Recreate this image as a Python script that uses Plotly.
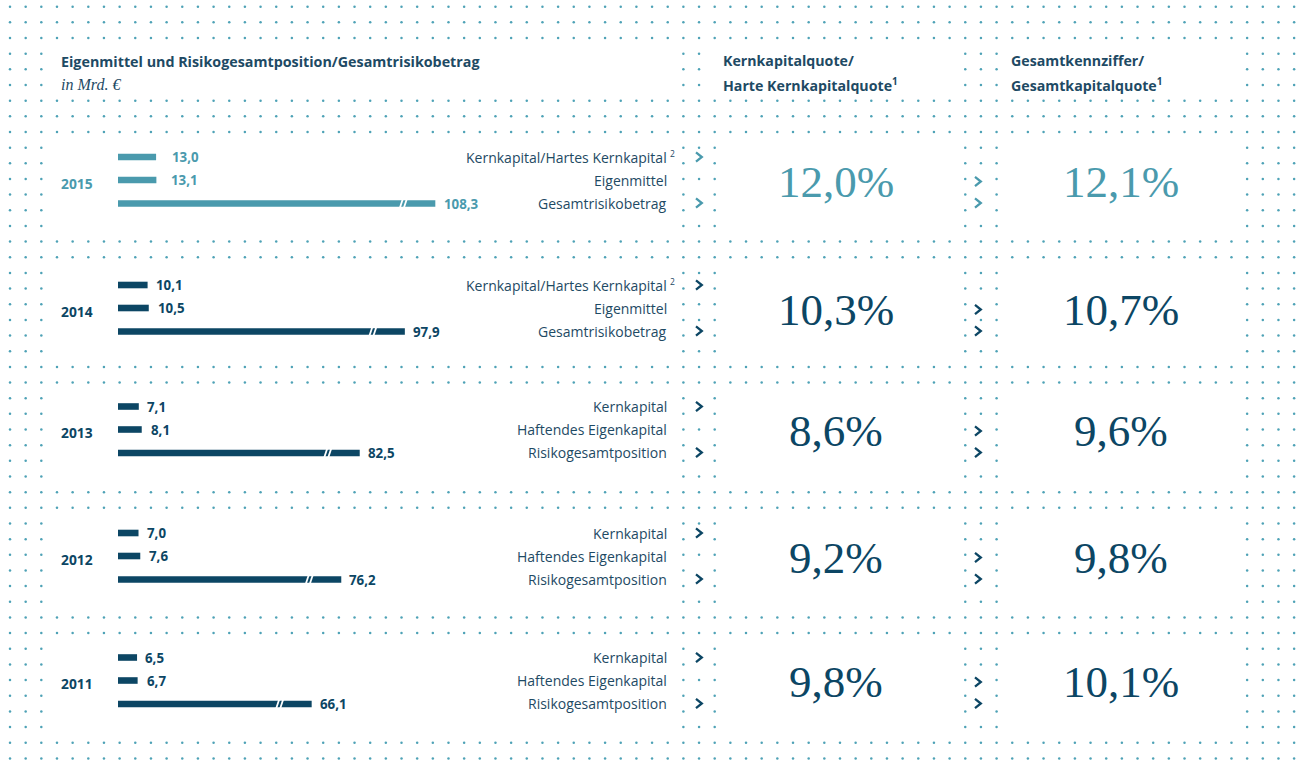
import plotly.graph_objects as go

# ---------------- data ----------------
years = ["2015", "2014", "2013", "2012", "2011"]
kernkapital = [13.0, 10.1, 7.1, 7.0, 6.5]
eigenmittel = [13.1, 10.5, 8.1, 7.6, 6.7]
risiko = [108.3, 97.9, 82.5, 76.2, 66.1]
kernkapitalquote = [12.0, 10.3, 8.6, 9.2, 9.8]
gesamtkennziffer = [12.1, 10.7, 9.6, 9.8, 10.1]
label_top = ["Kernkapital/Hartes Kernkapital", "Kernkapital/Hartes Kernkapital",
             "Kernkapital", "Kernkapital", "Kernkapital"]
label_mid = ["Eigenmittel", "Eigenmittel", "Haftendes Eigenkapital",
             "Haftendes Eigenkapital", "Haftendes Eigenkapital"]
label_bot = ["Gesamtrisikobetrag", "Gesamtrisikobetrag", "Risikogesamtposition",
             "Risikogesamtposition", "Risikogesamtposition"]
label_top_note = ["2", "2", "", "", ""]

title = "Eigenmittel und Risikogesamtposition/Gesamtrisikobetrag"
subtitle = "in Mrd. €"
head2 = ["Kernkapitalquote/", "Harte Kernkapitalquote", "1"]
head3 = ["Gesamtkennziffer/", "Gesamtkapitalquote", "1"]

# ---------------- style / layout ----------------
W, H = 1296, 773
TEAL = "#4a9aad"
NAVY = "#0c4664"
TEXT = "#1e4a64"
DOT = "#4ea2b6"
row_colors = [TEAL, NAVY, NAVY, NAVY, NAVY]
row_center = [180, 308, 429.5, 556, 680.5]
GAP = 23
SANS = "Open Sans"
SERIF = "Liberation Serif"
PX_PER_UNIT = 2.93
BAR_X0 = 118
BAR_RANGE = 140


def de(v):
    return f"{v:.1f}".replace(".", ",")


fig = go.Figure()

# ---------------- dotted background ----------------
SP = 15.66
header_rows = {3, 4, 5}
data_rows = set()
for k in range(5):
    data_rows |= set(range(9 + 8 * k, 15 + 8 * k))
blank_header = set(range(3, 43)) | set(range(45, 61)) | set(range(64, 79))
blank_data = set(range(3, 43)) | set(range(46, 61)) | set(range(64, 79))

arrows = []  # (x, y, color)
for k in range(5):
    c = row_center[k]
    arrows.append((699, c - GAP, row_colors[k]))
    arrows.append((699, c + GAP, row_colors[k]))
    arrows.append((978, c + 1.5, row_colors[k]))
    arrows.append((978, c + GAP, row_colors[k]))

dx, dy = [], []
for j in range(49):
    for i in range(83):
        if j in header_rows and i in blank_header:
            continue
        if j in data_rows and i in blank_data:
            continue
        x = 10 + SP * i
        y = 6.7 + SP * j
        if any(abs(x - ax) < 5 and abs(y - ay) < 9 for ax, ay, _ in arrows):
            continue
        dx.append(x)
        dy.append(y)

fig.add_trace(go.Scatter(x=dx, y=dy, mode="markers", xaxis="x", yaxis="y",
                         marker=dict(size=2.5, color=DOT), hoverinfo="skip",
                         showlegend=False))

# ---------------- bars ----------------
for k in range(5):
    c = row_center[k]
    ys = [c - GAP, c, c + GAP + 0.5]
    vals = [kernkapital[k], eigenmittel[k], risiko[k]]
    fig.add_trace(go.Bar(x=vals, y=ys, orientation="h", width=6.6,
                         marker=dict(color=row_colors[k], line=dict(width=0)),
                         xaxis="x2", yaxis="y", showlegend=False,
                         hoverinfo="skip"))

shapes = []
annotations = []

# break marks on the long bars
for k in range(5):
    c = row_center[k] + GAP + 0.5
    for off in (-34, -30):
        shapes.append(dict(type="line", xref="x2", yref="y",
                           xsizemode="pixel", ysizemode="pixel",
                           xanchor=risiko[k], yanchor=c,
                           x0=off - 2, x1=off + 2, y0=-6, y1=6,
                           line=dict(color="white", width=1.8)))

# value labels
for k in range(5):
    c = row_center[k]
    ys = [c - GAP, c, c + GAP + 0.5]
    vals = [kernkapital[k], eigenmittel[k], risiko[k]]
    pads = [14, 13, 7] if k == 0 else [6, 7, 6]
    for v, y, p in zip(vals, ys, pads):
        annotations.append(dict(x=v, y=y, xref="x2", yref="y", text=f"<b>{de(v)}</b>",
                                xanchor="left", yanchor="middle", xshift=p,
                                showarrow=False,
                                font=dict(family=SANS, size=13.3, color=row_colors[k])))

# years
for k in range(5):
    annotations.append(dict(x=59, y=row_center[k] + 3, xref="x", yref="y",
                            text=f"<b>{years[k]}</b>", xanchor="left", yanchor="middle",
                            showarrow=False,
                            font=dict(family=SANS, size=13.8, color=row_colors[k])))

# category labels
for k in range(5):
    c = row_center[k]
    for txt, y in ((label_top[k], c - GAP), (label_mid[k], c), (label_bot[k], c + GAP)):
        annotations.append(dict(x=669, y=y, xref="x", yref="y", text=txt,
                                xanchor="right", yanchor="middle", showarrow=False,
                                font=dict(family=SANS, size=14, color=TEXT)))
    if label_top_note[k]:
        annotations.append(dict(x=668, y=c - GAP - 4, xref="x", yref="y",
                                text=label_top_note[k], xanchor="left", yanchor="middle",
                                showarrow=False,
                                font=dict(family=SANS, size=8.5, color=TEXT)))

# big ratios
for k in range(5):
    c = row_center[k] + 1.5
    for v, x in ((kernkapitalquote[k], 835.5), (gesamtkennziffer[k], 1121)):
        annotations.append(dict(x=x, y=c, xref="x", yref="y", text=f"{de(v)}%",
                                xanchor="center", yanchor="middle", showarrow=False,
                                font=dict(family=SERIF, size=45, color=row_colors[k])))

# arrows (chevrons)
for ax, ay, col in arrows:
    shapes.append(dict(type="path", xref="x", yref="y",
                       path=f"M {ax-3},{ay-4.6} L {ax+2.8},{ay} L {ax-3},{ay+4.6}",
                       line=dict(color=col, width=2.3)))

# header texts
annotations.append(dict(x=59, y=61, xref="x", yref="y", text=f"<b>{title}</b>",
                        xanchor="left", yanchor="middle", showarrow=False,
                        font=dict(family=SANS, size=14.3, color=TEXT)))
annotations.append(dict(x=59, y=84, xref="x", yref="y", text=f"<i>{subtitle}</i>",
                        xanchor="left", yanchor="middle", showarrow=False,
                        font=dict(family=SERIF, size=16, color=TEXT)))
for hx, h in ((721, head2), (1009, head3)):
    annotations.append(dict(x=hx, y=60, xref="x", yref="y", text=f"<b>{h[0]}</b>",
                            xanchor="left", yanchor="middle", showarrow=False,
                            font=dict(family=SANS, size=14.2, color=TEXT)))
    annotations.append(dict(x=hx, y=84, xref="x", yref="y",
                            text=f"<b>{h[1]}</b><sup><b>{h[2]}</b></sup>",
                            xanchor="left", yanchor="middle", showarrow=False,
                            font=dict(family=SANS, size=14.2, color=TEXT)))

fig.update_layout(
    width=W, height=H,
    margin=dict(l=0, r=0, t=0, b=0),
    paper_bgcolor="white", plot_bgcolor="rgba(0,0,0,0)",
    showlegend=False, barmode="overlay",
    xaxis=dict(range=[0, W], domain=[0, 1], visible=False, fixedrange=True),
    yaxis=dict(range=[H, 0], domain=[0, 1], visible=False, fixedrange=True),
    xaxis2=dict(range=[0, BAR_RANGE], anchor="y",
                domain=[BAR_X0 / W, (BAR_X0 + PX_PER_UNIT * BAR_RANGE) / W],
                visible=False, fixedrange=True),
    shapes=shapes, annotations=annotations,
)

fig.write_html("out.html", post_script="document.body.style.margin='0';",
               config={"displayModeBar": False})
